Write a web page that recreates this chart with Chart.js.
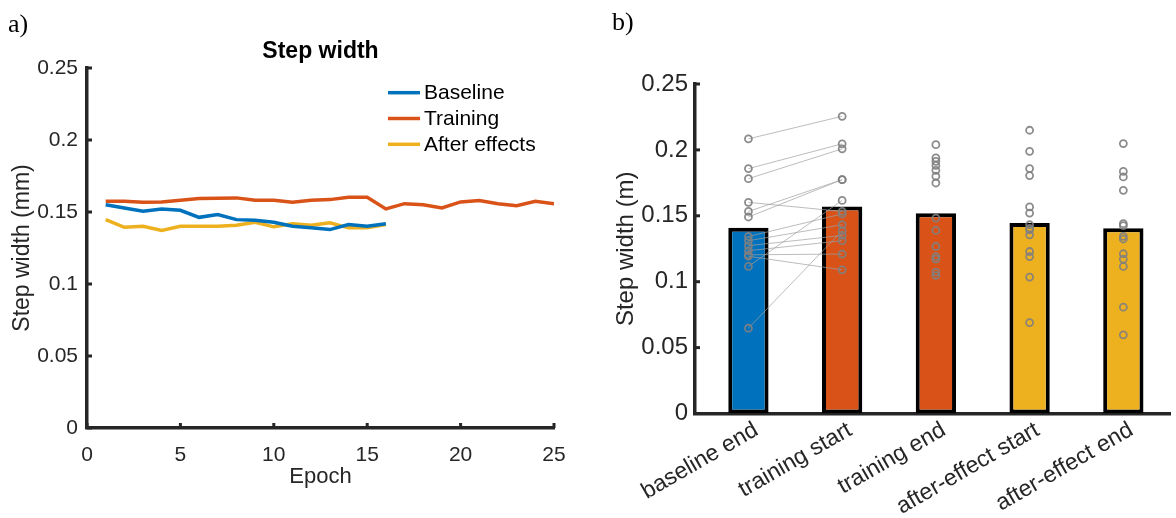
<!DOCTYPE html>
<html><head><meta charset="utf-8">
<script src="https://cdn.jsdelivr.net/npm/chart.js@4.4.1/dist/chart.umd.min.js"></script>
<style>
html,body{margin:0;padding:0;background:#fff;}
#wrap{position:relative;width:1176px;height:518px;overflow:hidden;background:#fff;}
.panel{position:absolute;top:0;height:518px;}
#pa{left:0;width:590px;}
#pb{left:590px;width:586px;}
.tag{position:absolute;font-family:'Liberation Serif','Times New Roman',serif;font-size:26px;line-height:26px;color:#000;}
</style></head><body>
<div id="wrap">
<div class="panel" id="pa"><canvas id="ca"></canvas></div>
<div class="panel" id="pb"><canvas id="cb"></canvas></div>
<div class="tag" style="left:8px;top:11px">a)</div>
<div class="tag" style="left:612px;top:9px">b)</div>
</div>
<script>
// ---------- Panel a data ----------
const epochs = [1,2,3,4,5,6,7,8,9,10,11,12,13,14,15,16,17,18,19,20,21,22,23,24,25];
const baseline = [0.1551,0.1528,0.1505,0.1521,0.1512,0.1463,0.1482,0.1447,0.1443,0.1429,0.1401,0.1390,0.1378,0.1413,0.1401,0.1418];
const training = [0.1574,0.1574,0.1567,0.1570,0.1581,0.1593,0.1595,0.1598,0.1581,0.1581,0.1567,0.1581,0.1586,0.1602,0.1602,0.1521,0.1558,0.1551,0.1528,0.1570,0.1579,0.1558,0.1544,0.1574,0.1558];
const afterEffects = [0.1447,0.1394,0.1401,0.1371,0.1401,0.1401,0.1401,0.1408,0.1429,0.1397,0.1418,0.1408,0.1425,0.1390,0.1390,0.1413];
const seriesNames = ['Baseline','Training','After effects'];

// ---------- Panel b data ----------
const phases = ['baseline end','training start','training end','after-effect start','after-effect end'];
const phaseMeans = [0.1410,0.1570,0.1520,0.1445,0.1405];
const baselineEnd    = [0.2084,0.1858,0.1782,0.1602,0.1533,0.1491,0.1343,0.1311,0.1273,0.1235,0.1204,0.1193,0.1116,0.0647];
const trainingStart  = [0.2255,0.2046,0.2008,0.1533,0.1774,0.1774,0.1514,0.1432,0.1351,0.1311,0.1210,0.1090,0.1617,0.1387];
const trainingEnd    = [0.2040,0.1939,0.1913,0.1883,0.1845,0.1800,0.1749,0.1483,0.1389,0.1267,0.1191,0.1171,0.1073,0.1047];
const afterEffectStart = [0.2149,0.1989,0.1858,0.1805,0.1567,0.1521,0.1432,0.1405,0.1394,0.1356,0.1229,0.1191,0.1035,0.0690];
const afterEffectEnd   = [0.2048,0.1837,0.1795,0.1693,0.1440,0.1425,0.1344,0.1324,0.1212,0.1172,0.1116,0.0807,0.0597];
const yTicks = [0,0.05,0.1,0.15,0.2,0.25];

const BLUE='#0072BD', ORANGE='#D95319', YELLOW='#EDB120', AX='#262626';
const FONT="'Liberation Sans', Arial, Helvetica, sans-serif";
Chart.defaults.font.family = FONT;
Chart.defaults.color = AX;
Chart.defaults.animation = false;
const fmt = v => String(Math.round(v*100)/100);

const inTicks = {
  id:'inTicks',
  afterDatasetsDraw(chart, args, opts){
    const {ctx, chartArea} = chart;
    ctx.save(); ctx.strokeStyle = opts.color; ctx.lineWidth = opts.width; ctx.lineCap='butt';
    (opts.axes||[]).forEach(id=>{
      const s = chart.scales[id];
      s.ticks.forEach(t=>{
        const p = s.getPixelForValue(t.value);
        ctx.beginPath();
        if (s.isHorizontal()){ ctx.moveTo(p, chartArea.bottom); ctx.lineTo(p, chartArea.bottom - opts.len); }
        else { ctx.moveTo(chartArea.left, p); ctx.lineTo(chartArea.left + opts.len, p); }
        ctx.stroke();
      });
    });
    ctx.restore();
  }
};

const insideLegend = {
  id:'insideLegend',
  afterDatasetsDraw(chart, args, opts){
    if (!opts || !opts.show) return;
    const {ctx, chartArea} = chart;
    ctx.save();
    ctx.font = opts.font; ctx.textBaseline='middle'; ctx.textAlign='left'; ctx.fillStyle='#000';
    chart.data.datasets.forEach((ds,i)=>{
      const y = chartArea.top + opts.top + i*opts.rowH;
      const x0 = chartArea.right - opts.fromRight;
      ctx.strokeStyle = ds.borderColor; ctx.lineWidth = 3.5;
      ctx.beginPath(); ctx.moveTo(x0,y); ctx.lineTo(x0+opts.lineLen,y); ctx.stroke();
      ctx.fillText(ds.label, x0+opts.lineLen+opts.gap, y+1);
    });
    ctx.restore();
  }
};

const toXY = (xs, ys) => ys.map((v,i)=>({x:xs[i], y:v}));

// ---------- Chart a ----------
new Chart(document.getElementById('ca'), {
  type:'line',
  data:{datasets:[
    {label:seriesNames[0], data:toXY(epochs, baseline), borderColor:BLUE, borderWidth:3.5, pointRadius:0, fill:false, tension:0},
    {label:seriesNames[1], data:toXY(epochs, training), borderColor:ORANGE, borderWidth:3.5, pointRadius:0, fill:false, tension:0},
    {label:seriesNames[2], data:toXY(epochs, afterEffects), borderColor:YELLOW, borderWidth:3.5, pointRadius:0, fill:false, tension:0}
  ]},
  options:{
    responsive:true, maintainAspectRatio:false, animation:false,
    layout:{padding:{left:0,right:36,top:0,bottom:0}},
    plugins:{
      legend:{display:false}, tooltip:{enabled:false},
      title:{display:true, fullSize:false, text:'Step width', color:'#000', font:{size:23, weight:'bold'}, padding:{top:38, bottom:2.4}},
      inTicks:{axes:['x','y'], len:5, width:3, color:AX},
      insideLegend:{show:true, font:"21px "+FONT, top:24.7, rowH:25.8, fromRight:166, lineLen:32, gap:4}
    },
    scales:{
      x:{type:'linear', min:0, max:25, afterFit(s){s.height = 90;},
        ticks:{stepSize:5, font:{size:21}, color:AX, padding:15, maxRotation:0},
        grid:{display:false, drawTicks:false}, border:{display:true, color:AX, width:3.5},
        title:{display:true, text:'Epoch', font:{size:22}, color:AX, padding:{top:0,bottom:28}}},
      y:{type:'linear', min:0, max:0.25, afterFit(s){s.width = 87;},
        afterBuildTicks(s){ s.ticks = yTicks.map(v=>({value:v})); },
        ticks:{font:{size:21}, color:AX, padding:9, callback:fmt},
        grid:{display:false, drawTicks:false}, border:{display:true, color:AX, width:3.5},
        title:{display:true, text:'Step width (mm)', font:{size:23}, color:AX, padding:{top:9,bottom:0}}}
    }
  },
  plugins:[inTicks, insideLegend]
});

// ---------- Chart b ----------
const pairLines = [];
baselineEnd.forEach((b,i)=>{ pairLines.push({x:1,y:b},{x:2,y:trainingStart[i]},{x:1.5,y:null}); });
const allPoints = [].concat(
  baselineEnd.map(v=>({x:1,y:v})), trainingStart.map(v=>({x:2,y:v})), trainingEnd.map(v=>({x:3,y:v})),
  afterEffectStart.map(v=>({x:4,y:v})), afterEffectEnd.map(v=>({x:5,y:v})));

new Chart(document.getElementById('cb'), {
  type:'bar',
  data:{datasets:[
    {type:'scatter', data:allPoints, pointRadius:3.5, pointBorderWidth:1.8, pointBorderColor:'rgba(128,128,128,0.9)', pointBackgroundColor:'rgba(0,0,0,0)', order:1},
    {type:'line', data:pairLines, borderColor:'rgba(160,160,160,0.7)', borderWidth:1, pointRadius:0, spanGaps:false, fill:false, order:2},
    {type:'bar', data:phaseMeans.map((v,i)=>({x:i+1,y:v})), backgroundColor:[BLUE,ORANGE,ORANGE,YELLOW,YELLOW], borderColor:'#000', borderWidth:4, borderSkipped:false, barPercentage:0.43, categoryPercentage:1, order:3}
  ]},
  options:{
    responsive:true, maintainAspectRatio:false, animation:false,
    layout:{padding:{left:0,right:4,top:84,bottom:0}},
    plugins:{legend:{display:false}, tooltip:{enabled:false}, inTicks:{axes:['y'], len:5, width:3, color:AX}},
    scales:{
      x:{type:'linear', min:0.43, max:5.5, offset:false, afterFit(s){s.height = 104.5;},
        afterBuildTicks(s){ s.ticks = phases.map((p,i)=>({value:i+1})); },
        ticks:{callback:(v)=>phases[Math.round(v)-1], minRotation:30, maxRotation:30, autoSkip:false, font:{size:23}, color:AX, padding:3, labelOffset:8},
        grid:{display:false, drawTicks:false, offset:false}, border:{display:true, color:AX, width:3.5}},
      y:{type:'linear', min:0, max:0.25, afterFit(s){s.width = 105;},
        afterBuildTicks(s){ s.ticks = yTicks.map(v=>({value:v})); },
        ticks:{font:{size:24}, color:AX, padding:7, callback:fmt},
        grid:{display:false, drawTicks:false}, border:{display:true, color:AX, width:3.5}, 
        title:{display:true, text:'Step width (m)', font:{size:24}, color:AX, padding:{top:22,bottom:0}}}
    }
  },
  plugins:[inTicks]
});
</script>
</body></html>
